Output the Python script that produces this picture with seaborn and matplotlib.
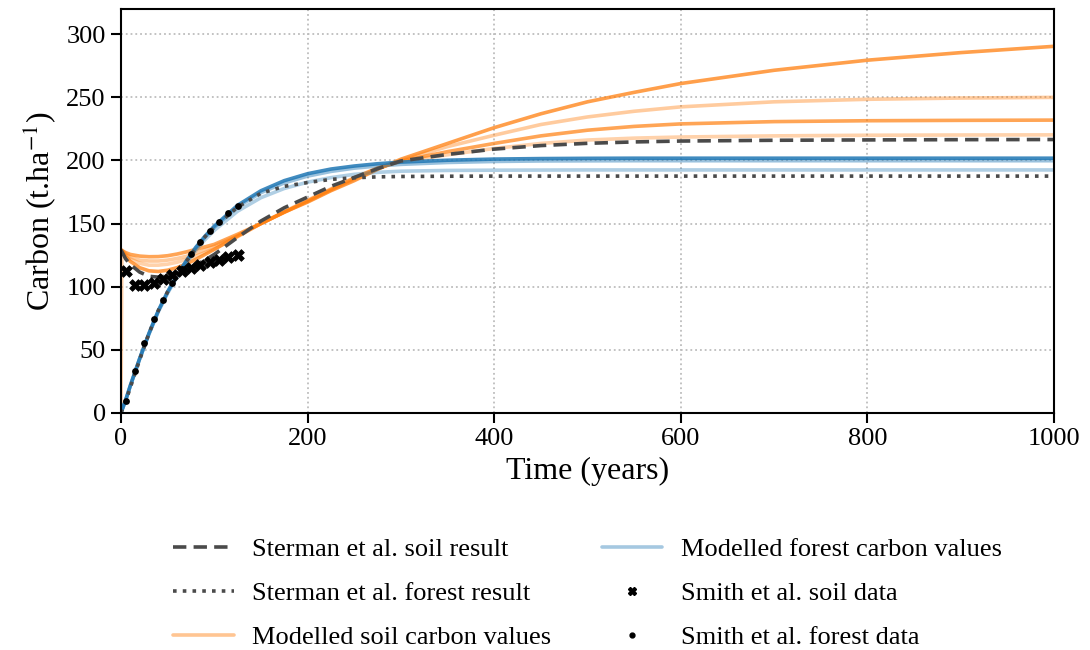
import matplotlib
matplotlib.use("Agg")
import matplotlib.pyplot as plt
from matplotlib.lines import Line2D
import numpy as np
import pandas as pd
import seaborn as sns

# ---------------------------------------------------------------- data
# time axis (years) for the modelled runs and the Sterman et al. curves
T_MODEL = [0, 5, 10, 20, 30, 40, 50, 60, 70, 80, 90, 100, 125, 150, 175,
           200, 225, 250, 275, 300, 350, 400, 450, 500, 550, 600, 700, 800,
           900, 1000]
# one soil run is reported from zero and set to its initial stock after a year
T_SOIL_START = [0, 1] + T_MODEL[1:]

SOIL_RUN_A = [129, 124, 120, 115, 112.5, 112, 113, 115, 118, 121.5, 125.5,
              129.5, 140, 150, 159, 167, 176, 184, 193, 201, 213.5, 226, 237,
              246.5, 254, 261, 271.5, 279.5, 285.5, 290.5]
SOIL_RUN_B = [129, 126, 123.5, 121, 120.3, 120.3, 121, 122.3, 124, 126.3,
              129, 132, 140.5, 150, 159, 167.5, 176.5, 185, 193.5, 200, 211,
              220, 228.5, 234.5, 239, 242.5, 246.5, 248.5, 249.5, 250]
SOIL_RUN_C = [129, 127, 125.5, 124.2, 123.7, 123.8, 124.5, 125.8, 127.5,
              129.5, 131.5, 133.5, 141.5, 150, 159, 168, 177, 186, 194, 199.5,
              207, 213.5, 219.5, 224, 227, 229, 230.8, 231.5, 231.8, 232]
SOIL_RUN_D = [0, 129, 125, 122, 118.5, 117, 117, 117.8, 119.3, 121.5, 124,
              127, 130, 139.5, 150, 159.5, 168.5, 177.5, 186.5, 194, 199,
              204.5, 209.5, 213.5, 216.2, 217.7, 218.6, 219.5, 220, 220.2,
              220.3]

FOREST_RUN_A = [0, 10, 21.5, 43, 63, 81, 96, 109, 120.5, 131, 140, 148,
                164.5, 176, 184, 189.5, 193.2, 195.6, 197.4, 198.7, 200.2,
                201.1, 201.5, 201.7, 201.8, 201.8, 201.8, 201.8, 201.8, 201.8]
FOREST_RUN_B = [0, 10, 21.4, 42.8, 62.7, 80.6, 95.5, 108.4, 119.8, 130.2,
                139.1, 147, 163.2, 174.5, 182.2, 187.6, 191.3, 193.9, 195.6,
                196.9, 198.4, 199.2, 199.6, 199.7, 199.8, 199.8, 199.8, 199.8,
                199.8, 199.8]
FOREST_RUN_C = [0, 10, 21.3, 42.5, 62.3, 80, 94.8, 107.5, 118.6, 128.6,
                137.2, 144.6, 159.8, 170.5, 177.8, 182.8, 186.4, 189, 190.6,
                191.5, 192.1, 192.3, 192.4, 192.5, 192.5, 192.5, 192.5, 192.5,
                192.5, 192.5]

STERMAN_SOIL = [129, 122, 117.5, 111.5, 108.2, 107.5, 108.5, 110.5, 113.5,
                117, 121, 125.5, 139, 152, 162.5, 171, 179.5, 186.5, 193.5,
                199.6, 204.8, 209, 211.8, 213.6, 214.7, 215.4, 216, 216.3,
                216.5, 216.6]
STERMAN_FOREST = [0, 9, 20, 42, 63, 81, 96, 108.5, 120, 130, 139.5, 147, 163,
                  174, 179.5, 182.5, 185, 186.3, 187, 187.3, 187.5, 187.6,
                  187.6, 187.6, 187.6, 187.6, 187.6, 187.6, 187.6, 187.6]

# Smith et al. observations
T_SMITH = [5, 15, 25, 35, 45, 55, 65, 75, 85, 95, 105, 115, 125]
SMITH_SOIL = [112, 101, 101, 103, 106, 109.5, 112, 115, 117, 119.3, 121,
              123.5, 125]
SMITH_FOREST = [9, 33, 55, 74, 89, 103, 114, 126, 135.5, 144, 151.5, 158, 164]

LEGEND_LABELS = ["Sterman et al. soil result",
                 "Sterman et al. forest result",
                 "Modelled soil carbon values",
                 "Modelled forest carbon values",
                 "Smith et al. soil data",
                 "Smith et al. forest data"]

# ---------------------------------------------------------------- style
ORANGE = "#ff7f0e"
BLUE = "#1f77b4"
GREY = "#4a4a4a"

sns.set_style("ticks")
plt.rcParams["font.family"] = ["Liberation Serif", "DejaVu Serif"]
plt.rcParams["mathtext.fontset"] = "stix"
for key in ("text.color", "axes.labelcolor", "xtick.color", "ytick.color"):
    plt.rcParams[key] = "black"

fig, ax = plt.subplots(figsize=(10.9, 6.5), dpi=100)
fig.subplots_adjust(left=0.111, right=0.967, top=0.986, bottom=0.365)

soil_runs = [(T_MODEL, SOIL_RUN_A, 0.75), (T_MODEL, SOIL_RUN_B, 0.4),
             (T_MODEL, SOIL_RUN_C, 0.7), (T_SOIL_START, SOIL_RUN_D, 0.35)]
for t, run, a in soil_runs:
    sns.lineplot(x=t, y=run, color=ORANGE, alpha=a, lw=2.6,
                 ax=ax, legend=False, zorder=2)

forest_runs = [(FOREST_RUN_A, 0.85), (FOREST_RUN_B, 0.45), (FOREST_RUN_C, 0.35)]
for run, a in forest_runs:
    sns.lineplot(x=T_MODEL, y=run, color=BLUE, alpha=a, lw=2.6,
                 ax=ax, legend=False, zorder=2.1)

sns.lineplot(x=T_MODEL, y=STERMAN_SOIL, color=GREY, lw=2.6, ax=ax,
             legend=False, zorder=2.2)
ax.lines[-1].set_dashes((3.7, 2.0))
sns.lineplot(x=T_MODEL, y=STERMAN_FOREST, color=GREY, lw=2.6, ax=ax,
             legend=False, zorder=2.2)
ax.lines[-1].set_dashes((1.0, 1.7))

smith = pd.DataFrame({"t": T_SMITH, "soil": SMITH_SOIL,
                      "forest": SMITH_FOREST})
sns.scatterplot(data=smith, x="t", y="soil", marker="X", s=70, color="black",
                edgecolor="black", linewidth=0.6, ax=ax, zorder=3)
sns.scatterplot(data=smith, x="t", y="forest", marker="o", s=24,
                color="black", edgecolor="black", linewidth=0, ax=ax,
                zorder=3)

ax.set_xlim(0, 1000)
ax.set_ylim(0, 320)
ax.set_xticks(np.arange(0, 1001, 200))
ax.set_yticks(np.arange(0, 301, 50))
ax.grid(True, ls=":", color="#bdbdbd", lw=1.3)
ax.set_axisbelow(True)
for sp in ax.spines.values():
    sp.set_color("black")
    sp.set_linewidth(1.5)
ax.tick_params(direction="out", length=7, width=1.5, labelsize=19,
               colors="black", pad=4)
ax.set_xlabel("Time (years)", fontsize=23, labelpad=5)
ax.set_ylabel("Carbon (t.ha$^{-1}$)", fontsize=23, labelpad=6)

handles = [
    Line2D([], [], color=GREY, lw=2.6, dashes=(3.7, 2.0)),
    Line2D([], [], color=GREY, lw=2.6, dashes=(1.0, 1.7)),
    Line2D([], [], color=ORANGE, lw=2.6, alpha=0.45),
    Line2D([], [], color=BLUE, lw=2.6, alpha=0.4),
    Line2D([], [], ls="none", marker="X", ms=6, color="black"),
    Line2D([], [], ls="none", marker="o", ms=3.5, color="black"),
]
ax.legend(handles, LEGEND_LABELS, loc="upper center",
          bbox_to_anchor=(0.5, -0.25), ncol=2, frameon=False, fontsize=19,
          handlelength=2.3, handletextpad=0.7, labelspacing=0.78,
          columnspacing=1.9)

fig.savefig("out.png", dpi=100)
